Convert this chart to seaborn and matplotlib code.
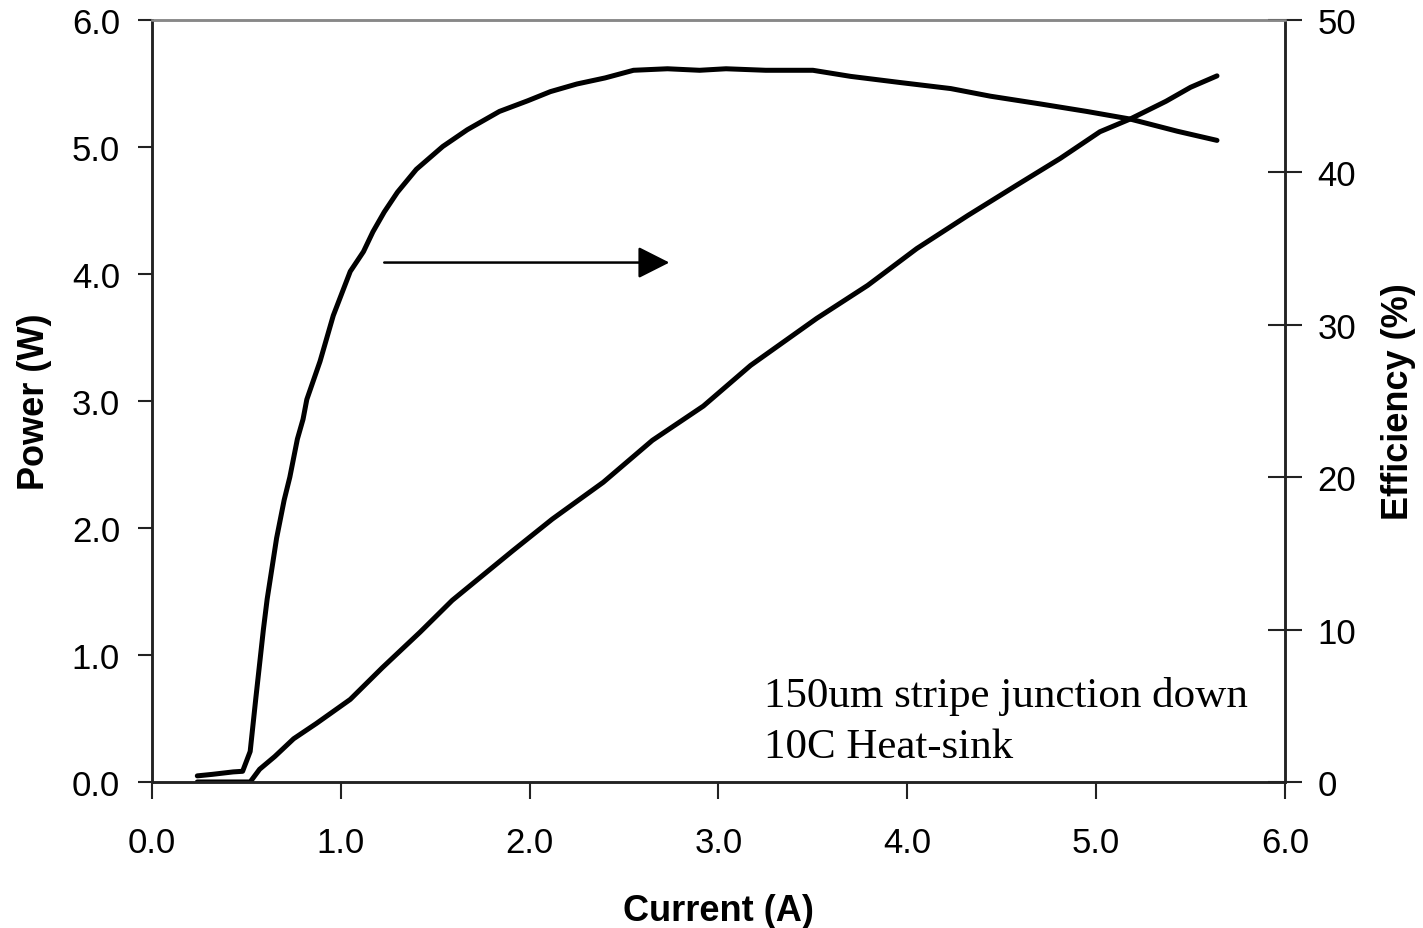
import matplotlib
matplotlib.use("Agg")
import matplotlib.pyplot as plt
import seaborn as sns
import pandas as pd
from matplotlib.ticker import FormatStrFormatter

# efficiency curve (right axis, %)
eff_current = [0.24, 0.32, 0.43, 0.48, 0.52, 0.55, 0.59, 0.61, 0.66, 0.70, 0.73,
               0.77, 0.80, 0.82, 0.89, 0.96, 1.05, 1.12, 1.17, 1.23, 1.30, 1.40,
               1.54, 1.67, 1.84, 1.99, 2.11, 2.25, 2.40, 2.55, 2.73, 2.90, 3.04,
               3.25, 3.50, 3.70, 3.96, 4.23, 4.44, 4.70, 4.95, 5.18, 5.43, 5.64]
efficiency = [0.4, 0.5, 0.66, 0.7, 2.0, 5.5, 10.0, 12.0, 16.0, 18.5, 20.0,
              22.5, 23.8, 25.1, 27.6, 30.6, 33.5, 34.8, 36.1, 37.4, 38.7, 40.2,
              41.7, 42.8, 44.0, 44.7, 45.3, 45.8, 46.2, 46.7, 46.8, 46.7, 46.8,
              46.7, 46.7, 46.3, 45.9, 45.5, 45.0, 44.5, 44.0, 43.5, 42.7, 42.1]

# power curve (left axis, W)
pow_current = [0.24, 0.52, 0.57, 0.65, 0.75, 0.87, 1.05, 1.22, 1.42, 1.59, 1.91,
               2.12, 2.39, 2.65, 2.92, 3.17, 3.52, 3.79, 4.05, 4.32, 4.58, 4.81,
               5.02, 5.18, 5.37, 5.50, 5.64]
power = [0.0, 0.0, 0.10, 0.20, 0.34, 0.46, 0.65, 0.90, 1.18, 1.43, 1.82,
         2.07, 2.36, 2.69, 2.96, 3.28, 3.65, 3.91, 4.20, 4.46, 4.70, 4.91,
         5.12, 5.22, 5.36, 5.47, 5.56]

x_ticks = [0, 1, 2, 3, 4, 5, 6]
p_ticks = [0, 1, 2, 3, 4, 5, 6]
e_ticks = [0, 10, 20, 30, 40, 50]
note_lines = ["150um stripe junction down", "10C Heat-sink"]

sns.set_style("white")
plt.rcParams['font.family'] = ['Liberation Sans', 'DejaVu Sans']

df_p = pd.DataFrame({"current": pow_current, "power": power})
df_e = pd.DataFrame({"current": eff_current, "eff": efficiency})

fig = plt.figure(figsize=(14.23, 9.29), dpi=100)
ax = fig.add_axes([0.1068, 0.1572, 0.7962, 0.8202])
ax2 = ax.twinx()

sns.lineplot(data=df_p, x="current", y="power", ax=ax, color="black", lw=3.6, sort=False)
sns.lineplot(data=df_e, x="current", y="eff", ax=ax2, color="black", lw=3.6, sort=False)

ax.set_xlim(0, 6)
ax.set_ylim(0, 6)
ax2.set_ylim(0, 50)
ax.set_xticks(x_ticks)
ax.set_yticks(p_ticks)
ax2.set_yticks(e_ticks)
ax.xaxis.set_major_formatter(FormatStrFormatter('%.1f'))
ax.yaxis.set_major_formatter(FormatStrFormatter('%.1f'))

ax.tick_params(axis='x', direction='out', length=12, width=1.5, pad=20, labelsize=25,
               bottom=True, color='#222222', labelcolor='black')
ax.tick_params(axis='y', direction='out', length=10, width=1.5, pad=13, labelsize=25,
               left=True, color='#222222', labelcolor='black')
ax2.tick_params(axis='y', direction='inout', length=25, width=1.5, pad=11, labelsize=25,
                right=True, color='#222222', labelcolor='black')

for a in (ax, ax2):
    for side in ['left', 'right', 'bottom']:
        a.spines[side].set_color('#222222')
        a.spines[side].set_linewidth(1.8)
    a.spines['top'].set_color('#888888')
    a.spines['top'].set_linewidth(1.8)

ax.set_xlabel("Current (A)", fontsize=26, fontweight='bold', labelpad=24, color='black')
ax.set_ylabel("Power (W)", fontsize=26, fontweight='bold', labelpad=14, color='black')
ax2.set_ylabel("Efficiency (%)", fontsize=26, fontweight='bold', labelpad=18, color='black')

ax.annotate("", xy=(2.74, 4.09), xytext=(1.23, 4.09),
            arrowprops=dict(arrowstyle='-|>,head_length=0.97,head_width=0.49',
                            mutation_scale=20, color='black', lw=1.8,
                            shrinkA=0, shrinkB=0))

ax.text(3.24, 0.60, note_lines[0], family='Liberation Serif', fontsize=31,
        va='baseline', color='black')
ax.text(3.24, 0.20, note_lines[1], family='Liberation Serif', fontsize=31,
        va='baseline', color='black')

fig.savefig("out.png", dpi=100)
